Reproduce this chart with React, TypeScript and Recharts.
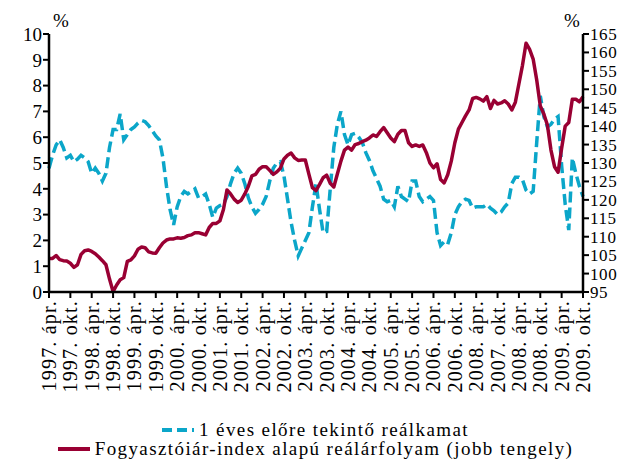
import { LineChart, Line, XAxis, YAxis, Legend } from "recharts";

// monthly, 1997. ápr. - 2009. okt.
const tickLabels = [
  "1997. ápr.", "1997. okt.", "1998. ápr.", "1998. okt.", "1999. ápr.", "1999. okt.",
  "2000. ápr.", "2000. okt.", "2001. ápr.", "2001. okt.", "2002. ápr.", "2002. okt.",
  "2003. ápr.", "2003. okt.", "2004. ápr.", "2004. okt.", "2005. ápr.", "2005. okt.",
  "2006. ápr.", "2006. okt.", "2008. ápr.", "2007. okt.", "2008. ápr.", "2008. okt.",
  "2009. ápr.", "2009. okt.",
];

// 1 éves előre tekintő reálkamat (%, bal tengely)
const realRate = [
  4.8, 5.3, 5.7, 5.9, 5.6, 5.2, 5.3, 5.05, 5.15, 5.3,
  5.2, 5.05, 4.6, 4.8, 4.6, 4.3, 4.6, 5.6, 6.3, 6.3,
  6.9, 5.9, 6.1, 6.3, 6.4, 6.55, 6.65, 6.6, 6.45, 6.25,
  6.05, 5.9, 5.2, 4.1, 3.2, 2.6, 3.3, 3.7, 3.9, 3.8,
  3.9, 4.0, 3.65, 3.7, 3.8, 3.4, 2.9, 3.25, 3.35, 3.4,
  3.7, 4.2, 4.6, 4.8, 4.6, 4.2, 3.65, 3.3, 3.05, 3.2,
  3.4, 3.7, 4.3, 4.8, 5.0, 5.05, 4.5, 3.6, 2.7, 2.0,
  1.4, 1.7, 2.0, 2.3, 3.3, 4.2, 3.2, 2.3, 2.35, 4.0,
  5.6, 6.5, 7.0, 6.1, 5.7, 6.1, 6.15, 6.0, 5.8, 5.4,
  5.1, 4.7, 4.4, 4.1, 3.6, 3.5, 3.55, 3.3, 4.1, 3.7,
  3.6, 3.5, 4.3, 4.3, 3.7, 3.5, 3.6, 3.7, 3.55, 2.3,
  1.8, 1.95, 1.85, 2.3, 3.0, 3.3, 3.5, 3.6, 3.55, 3.25,
  3.3, 3.3, 3.3, 3.4, 3.25, 3.15, 3.0, 3.1, 3.3, 3.45,
  4.2, 4.45, 4.45, 4.35, 3.95, 3.8, 3.9, 5.8, 7.6, 6.8,
  6.4, 6.5, 6.7, 6.8, 4.9, 3.4, 2.4, 5.2, 4.6, 4.1,
  3.7,
];

// Fogyasztóiár-index alapú reálárfolyam (jobb tengely)
const realExchange = [
  104.1, 104.1, 104.9, 103.8, 103.5, 103.4, 102.8, 101.7, 102.4, 105.2,
  106.2, 106.4, 106.0, 105.4, 104.5, 103.5, 102.4, 98.5, 95.1, 96.9,
  98.3, 98.9, 103.3, 103.7, 104.8, 106.6, 107.2, 107.0, 105.9, 105.6,
  105.5, 107.0, 108.3, 109.1, 109.4, 109.4, 109.7, 109.6, 109.8, 110.3,
  110.5, 111.1, 111.1, 110.8, 110.5, 112.5, 113.6, 113.6, 114.3, 117.4,
  122.7, 121.6, 120.2, 119.3, 119.9, 121.6, 123.7, 126.5, 126.9, 128.3,
  129.0, 129.0, 128.0, 126.9, 127.6, 128.6, 131.1, 132.1, 132.7, 131.4,
  130.7, 130.8, 130.8, 127.0, 123.3, 122.5, 124.2, 126.0, 126.7, 124.5,
  123.5, 127.0, 130.5, 133.5, 134.3, 133.5, 135.0, 135.3, 135.8, 136.2,
  136.8, 137.6, 137.2, 138.5, 139.6, 138.2, 136.8, 135.8, 137.8, 138.8,
  138.8, 135.5, 134.5, 134.9, 134.5, 134.9, 132.8, 130.0, 128.7, 129.8,
  125.5, 124.6, 126.8, 130.5, 135.5, 139.2, 141.0, 142.8, 144.4, 147.5,
  147.8, 147.4, 146.8, 148.0, 144.8, 147.0, 146.0, 146.3, 146.9, 146.0,
  144.4, 146.5, 151.5, 156.5, 162.5, 160.8, 158.2, 152.5, 145.5, 143.3,
  140.3, 133.5, 129.0, 127.5, 134.0, 140.0, 141.0, 147.3, 147.3, 146.6,
  148.0,
];

const leftTicks = [0, 1, 2, 3, 4, 5, 6, 7, 8, 9, 10];
const rightTicks = [95, 100, 105, 110, 115, 120, 125, 130, 135, 140, 145, 150, 155, 160, 165];

const BLUE = "#0BA6C9";
const RED = "#990033";
const FONT = "Liberation Serif, DejaVu Serif, serif";

const data = realRate.map((v, i) => ({ i, rate: v, reer: realExchange[i] }));
const xTicks = tickLabels.map((_, k) => k * 6);

function MonthTick(props: any) {
  const { x, y, payload } = props;
  return (
    <g transform={`translate(${x},${y})`}>
      <text
        x={0}
        y={0}
        dy="0.35em"
        textAnchor="end"
        transform="rotate(-90)"
        fill="#000"
        fontSize={20}
        letterSpacing={1.2}
        fontFamily={FONT}
      >
        {tickLabels[Math.round(payload.value / 6)]}
      </text>
    </g>
  );
}

function LegendBox() {
  const row = { display: "flex", justifyContent: "center", alignItems: "center", height: 19 };
  return (
    <div style={{ paddingTop: 8, fontFamily: FONT, fontSize: 19, letterSpacing: 1.4, color: "#000", lineHeight: "19px" }}>
      <div style={row}>
        <svg width={34} height={10} style={{ marginRight: 4 }}>
          <line x1={1} y1={5} x2={33} y2={5} stroke={BLUE} strokeWidth={4} strokeDasharray="10 5" />
        </svg>
        <span>1 éves előre tekintő reálkamat</span>
      </div>
      <div style={row}>
        <svg width={34} height={10} style={{ marginRight: 4 }}>
          <line x1={1} y1={5} x2={33} y2={5} stroke={RED} strokeWidth={4} />
        </svg>
        <span>Fogyasztóiár-index alapú reálárfolyam (jobb tengely)</span>
      </div>
    </div>
  );
}

const axisLine = { stroke: "#000", strokeWidth: 2.5 };
const tickLine = { stroke: "#000", strokeWidth: 2 };
const leftTickStyle = { fill: "#000", fontSize: 19, fontFamily: FONT };
const rightTickStyle = { fill: "#000", fontSize: 17, letterSpacing: 0.6, fontFamily: FONT };

export default function App() {
  return (
    <div style={{ position: "absolute", left: 0, top: 0, width: 630, height: 459, background: "#fff", fontFamily: FONT }}>
      <LineChart width={630} height={459} data={data} margin={{ top: 34, right: 0, left: 0, bottom: 0 }}>
        <XAxis
          dataKey="i"
          type="number"
          domain={[0, 150]}
          ticks={xTicks}
          interval={0}
          height={120}
          tick={<MonthTick />}
          tickSize={6}
          tickMargin={2}
          axisLine={axisLine}
          tickLine={tickLine}
        />
        <YAxis
          yAxisId="left"
          domain={[0, 10]}
          ticks={leftTicks}
          interval={0}
          width={49}
          tick={leftTickStyle}
          tickSize={6}
          tickMargin={1}
          axisLine={axisLine}
          tickLine={tickLine}
          label={{
            content: (p: any) => (
              <text x={p.viewBox.x + p.viewBox.width + 12} y={p.viewBox.y - 7} textAnchor="middle" fontSize={19} fontFamily={FONT} fill="#000">
                %
              </text>
            ),
          }}
        />
        <YAxis
          yAxisId="right"
          orientation="right"
          domain={[95, 165]}
          ticks={rightTicks}
          interval={0}
          width={47}
          tick={rightTickStyle}
          tickSize={6}
          tickMargin={1}
          axisLine={axisLine}
          tickLine={tickLine}
          label={{
            content: (p: any) => (
              <text x={p.viewBox.x - 11} y={p.viewBox.y - 7} textAnchor="middle" fontSize={19} fontFamily={FONT} fill="#000">
                %
              </text>
            ),
          }}
        />
        <Legend verticalAlign="bottom" height={47} content={<LegendBox />} />
        <Line
          yAxisId="left"
          type="linear"
          dataKey="rate"
          stroke={BLUE}
          strokeWidth={3.5}
          strokeDasharray="11 5"
          dot={false}
          isAnimationActive={false}
        />
        <Line
          yAxisId="right"
          type="linear"
          dataKey="reer"
          stroke={RED}
          strokeWidth={3.5}
          strokeLinejoin="round"
          dot={false}
          isAnimationActive={false}
        />
      </LineChart>
    </div>
  );
}
